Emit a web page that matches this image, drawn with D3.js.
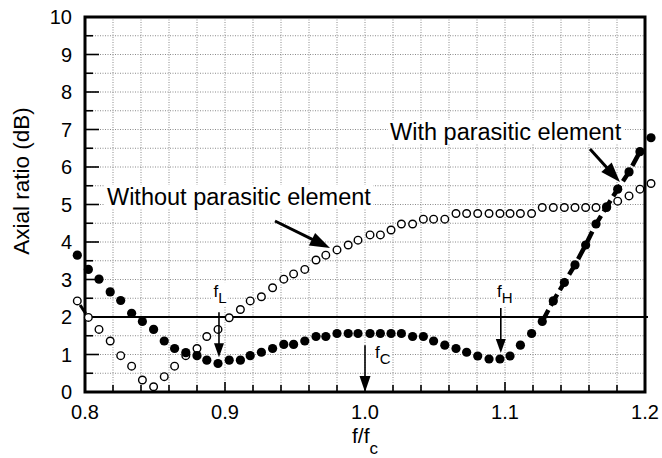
<!DOCTYPE html>
<html><head><meta charset="utf-8">
<script src="https://cdn.jsdelivr.net/npm/d3@7"></script>
<style>html,body{margin:0;padding:0;background:#fff;} svg{display:block;} text{font-family:"Liberation Sans",Arial,sans-serif;fill:#000;}</style>
</head><body>
<svg id="chart" width="662" height="458"></svg>
<script>
// ---- data ----
const freq = [0.7945,0.8024,0.810,0.818,0.8255,0.8333,0.841,0.849,0.8566,0.864,
  0.872,0.880,0.887,0.895,0.903,0.911,0.918,0.926,0.934,0.942,
  0.949,0.957,0.965,0.972,0.980,0.988,0.995,1.0036,1.011,1.0186,
  1.026,1.034,1.0417,1.049,1.057,1.065,1.0726,1.0805,1.0886,1.0964,
  1.1036,1.111,1.119,1.1266,1.1345,1.1424,1.150,1.1576,1.165,1.1726,
  1.1805,1.1886,1.1964,1.2043];
const withParasitic = [3.65,3.27,3.01,2.67,2.44,2.10,1.88,1.67,1.36,1.16,
  1.05,0.97,0.85,0.76,0.85,0.85,0.97,1.06,1.16,1.27,
  1.27,1.36,1.48,1.48,1.56,1.56,1.56,1.56,1.56,1.56,
  1.56,1.48,1.48,1.36,1.25,1.16,1.06,0.96,0.88,0.88,
  0.96,1.25,1.56,1.88,2.43,2.92,3.39,3.92,4.48,4.94,
  5.41,5.87,6.41,6.78];
const withoutParasitic = [2.43,1.99,1.67,1.36,0.97,0.69,0.32,0.14,0.41,0.69,
  0.97,1.16,1.48,1.67,1.98,2.20,2.43,2.54,2.78,3.01,
  3.15,3.27,3.52,3.65,3.79,3.92,4.05,4.19,4.19,4.32,
  4.48,4.48,4.61,4.61,4.61,4.76,4.76,4.76,4.76,4.76,
  4.76,4.76,4.76,4.92,4.92,4.92,4.92,4.92,4.92,4.92,
  5.09,5.23,5.41,5.56];
const xTicks = [0.8,0.9,1.0,1.1,1.2];
const xTickLabels = ["0.8","0.9","1.0","1.1","1.2"];
const yTicks = [0,1,2,3,4,5,6,7,8,9,10];
const yTickLabels = ["0","1","2","3","4","5","6","7","8","9","10"];
const threshold = 2;
const fLx = 0.8957, fHx = 1.097, fCx = 1.0;

// ---- layout ----
const L = 85, R = 645, T = 17, B = 392;
const svg = d3.select("#chart");
const x = d3.scaleLinear().domain([0.8,1.2]).range([L,R]);
const y = d3.scaleLinear().domain([0,10]).range([B,T]);

// grid
const g = svg.append("g");
const vgrid = d3.range(0.82,1.19,0.02);
g.selectAll(".vg").data(vgrid).join("line")
  .attr("x1",d=>x(d)).attr("x2",d=>x(d)).attr("y1",T).attr("y2",B)
  .attr("stroke","#8a8a8a").attr("stroke-width",1).attr("stroke-dasharray","1,1.5");
const hgrid = d3.range(0.5,10,0.5);
g.selectAll(".hg").data(hgrid).join("line")
  .attr("x1",L).attr("x2",R).attr("y1",d=>y(d)).attr("y2",d=>y(d))
  .attr("stroke","#8a8a8a").attr("stroke-width",1).attr("stroke-dasharray","1,1.5");

// ticks
const xMinor = d3.range(0.82,1.19,0.02);
g.selectAll(".xt").data(xMinor).join("line")
  .attr("x1",d=>x(d)).attr("x2",d=>x(d))
  .attr("y1",B).attr("y2",d=> Math.abs(Math.round(d*10)-d*10)<1e-6 ? B-10 : B-7)
  .attr("stroke","#000").attr("stroke-width",1.6);
const yMinor = d3.range(0.5,10,0.5);
g.selectAll(".yt").data(yMinor).join("line")
  .attr("y1",d=>y(d)).attr("y2",d=>y(d))
  .attr("x1",L).attr("x2",d=> Math.abs(d-Math.round(d))<1e-6 ? L+14 : L+8)
  .attr("stroke","#000").attr("stroke-width",1.6);

// threshold line
g.append("line").attr("x1",L).attr("x2",R+3).attr("y1",y(threshold)).attr("y2",y(threshold))
  .attr("stroke","#000").attr("stroke-width",2);

// frame
g.append("rect").attr("x",L).attr("y",T).attr("width",R-L).attr("height",B-T)
  .attr("fill","none").attr("stroke","#000").attr("stroke-width",3);

// tick labels
svg.selectAll(".xl").data(xTicks).join("text")
  .attr("x",d=>x(d)).attr("y",B+27).attr("text-anchor","middle")
  .attr("font-size",20).text((d,i)=>xTickLabels[i]);
svg.selectAll(".yl").data(yTicks).join("text")
  .attr("x",L-13).attr("y",d=>y(d)+7).attr("text-anchor","end")
  .attr("font-size",20).text((d,i)=>yTickLabels[i]);

// axis titles
svg.append("text").attr("transform",`translate(29,181) rotate(-90)`)
  .attr("text-anchor","middle").attr("font-size",22.5).text("Axial ratio (dB)");
const xt = svg.append("text").attr("x",352).attr("y",443).attr("font-size",21);
xt.append("tspan").text("f/f");
xt.append("tspan").attr("dy",11).attr("font-size",17).text("c");

// dashed line segments
const pts = freq.map((f,i)=>({f,w:withParasitic[i],o:withoutParasitic[i]}));
const lineW = d3.line().x(d=>x(d.f)).y(d=>y(d.w));
const lineO = d3.line().x(d=>x(d.f)).y(d=>y(d.o));
svg.append("path").attr("d",lineW(pts.slice(43,53))).attr("fill","none")
  .attr("stroke","#000").attr("stroke-width",4.5).attr("stroke-dasharray","13,5");
svg.append("path").attr("d",lineO(pts.slice(0,2))).attr("fill","none")
  .attr("stroke","#000").attr("stroke-width",3).attr("stroke-dasharray","0,5,10,20");

// markers
svg.selectAll(".po").data(pts).join("circle")
  .attr("cx",d=>x(d.f)).attr("cy",d=>y(d.o)).attr("r",3.8)
  .attr("fill","#fff").attr("stroke","#000").attr("stroke-width",1.4);
svg.selectAll(".pw").data(pts).join("circle")
  .attr("cx",d=>x(d.f)).attr("cy",d=>y(d.w)).attr("r",4.6)
  .attr("fill","#000");

// annotations
function arrow(x1,y1,x2,y2,w,len,hw){
  const X1=x(x1),Y1=y(y1),X2=x(x2),Y2=y(y2);
  const dx=X2-X1, dy=Y2-Y1, d=Math.hypot(dx,dy), ux=dx/d, uy=dy/d;
  const bx=X2-ux*len, by=Y2-uy*len;
  svg.append("line").attr("x1",X1).attr("y1",Y1).attr("x2",bx+ux*2).attr("y2",by+uy*2)
    .attr("stroke","#000").attr("stroke-width",w);
  svg.append("path").attr("d",`M${X2},${Y2}L${bx-uy*hw},${by+ux*hw}L${bx+uy*hw},${by-ux*hw}Z`).attr("fill","#000");
}
function label(txt, xv, yv, size){
  const t = svg.append("text").attr("x",x(xv)).attr("y",y(yv)).attr("font-size",size).text(txt);
  const bb = t.node().getBBox();
  svg.insert("rect","text").attr("x",bb.x-2).attr("y",bb.y+1).attr("width",bb.width+4).attr("height",bb.height-2).attr("fill","#fff");
  return t;
}
label("Without parasitic element",0.8157,4.99,23.5);
label("With parasitic element",1.0179,6.72,23.5);
arrow(0.9357,4.56,0.975,3.84,3,20,7);
arrow(1.1607,6.48,1.1821,5.60,3,20,7);

function fl(sub, xv, yv){
  const t = svg.append("text").attr("x",x(xv)).attr("y",y(yv)).attr("font-size",17);
  t.append("tspan").text("f");
  t.append("tspan").attr("dy",6).attr("font-size",15).text(sub);
  const bb = t.node().getBBox();
  svg.insert("rect","text").attr("x",bb.x-1).attr("y",bb.y).attr("width",bb.width+2).attr("height",bb.height).attr("fill","#fff");
}
fl("L",0.8918,2.53);
fl("H",1.0943,2.53);
fl("C",1.0071,0.91);
arrow(fLx,2.13,fLx,0.93,1.6,14,5);
arrow(fHx,2.24,fHx,1.04,1.6,14,5);
arrow(fCx,1.25,fCx,0.0,1.6,16,5.5);
</script>
</body></html>
